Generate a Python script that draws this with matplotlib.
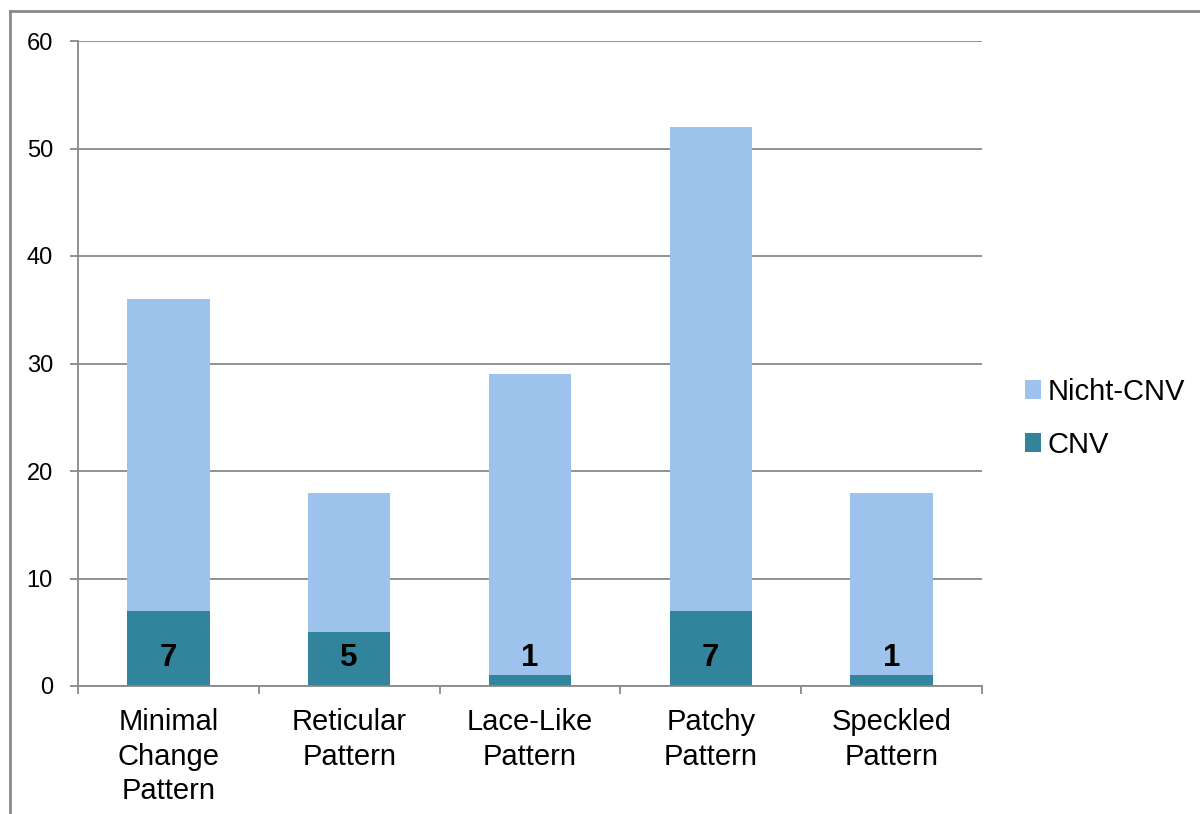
import numpy as np
import matplotlib.pyplot as plt
from matplotlib.patches import Patch
from matplotlib.lines import Line2D

categories = ["Minimal\nChange\nPattern", "Reticular\nPattern", "Lace-Like\nPattern",
              "Patchy\nPattern", "Speckled\nPattern"]
cnv = [7, 5, 1, 7, 1]
nicht_cnv = [29, 13, 28, 45, 17]

c_cnv = "#31849B"
c_nicht = "#9DC3EC"
grey = "#898989"

plt.rcParams['font.family'] = ['Liberation Sans', 'DejaVu Sans']

fig = plt.figure(figsize=(12, 8.14), dpi=100)
ax = fig.add_axes([78 / 1200, 1 - 686 / 814, 904 / 1200, 645 / 814])

x = np.arange(len(categories))
ax.bar(x, cnv, width=0.455, color=c_cnv, zorder=3)
ax.bar(x, nicht_cnv, width=0.455, bottom=cnv, color=c_nicht, zorder=3)

# labels of the CNV counts, all at the same height like in the original
for xi, v in zip(x, cnv):
    ax.text(xi, 2.6, str(v), ha="center", va="center", fontsize=22.5,
            fontweight="bold", color="black", zorder=4)

ax.set_xlim(-0.5, len(categories) - 0.5)
ax.set_ylim(0, 60)
ax.set_yticks(range(0, 61, 10))
ax.yaxis.grid(True, color=grey, linewidth=1.3, zorder=0)
ax.tick_params(axis="y", length=6, width=1.3, color=grey, pad=12, labelsize=17)

ax.set_xticks(x)
ax.set_xticklabels(categories, fontsize=21, linespacing=1.3)
ax.set_xticks(np.arange(-0.5, len(categories)), minor=True)
ax.tick_params(axis="x", which="major", length=0, pad=16)
ax.tick_params(axis="x", which="minor", length=6, width=1.3, color=grey)

for side in ["top", "right"]:
    ax.spines[side].set_visible(False)
for side in ["left", "bottom"]:
    ax.spines[side].set_color(grey)
    ax.spines[side].set_linewidth(1.3)
ax.spines["bottom"].set_zorder(5)

handles = [Patch(facecolor=c_nicht, label="Nicht-CNV"),
           Patch(facecolor=c_cnv, label="CNV")]
ax.legend(handles=handles, loc="center left", bbox_to_anchor=(1.035, 0.415),
          frameon=False, fontsize=21, handlelength=0.55, handleheight=0.6,
          handletextpad=0.2, labelspacing=0.85, borderaxespad=0)

# outer chart border (only left and top visible in the crop)
fig.add_artist(Line2D([9.5 / 1200, 9.5 / 1200], [0, 1 - 11 / 814],
                      transform=fig.transFigure, color=grey, linewidth=2))
fig.add_artist(Line2D([9.5 / 1200, 1], [1 - 11 / 814, 1 - 11 / 814],
                      transform=fig.transFigure, color=grey, linewidth=2))

fig.savefig("out.png", dpi=100)
